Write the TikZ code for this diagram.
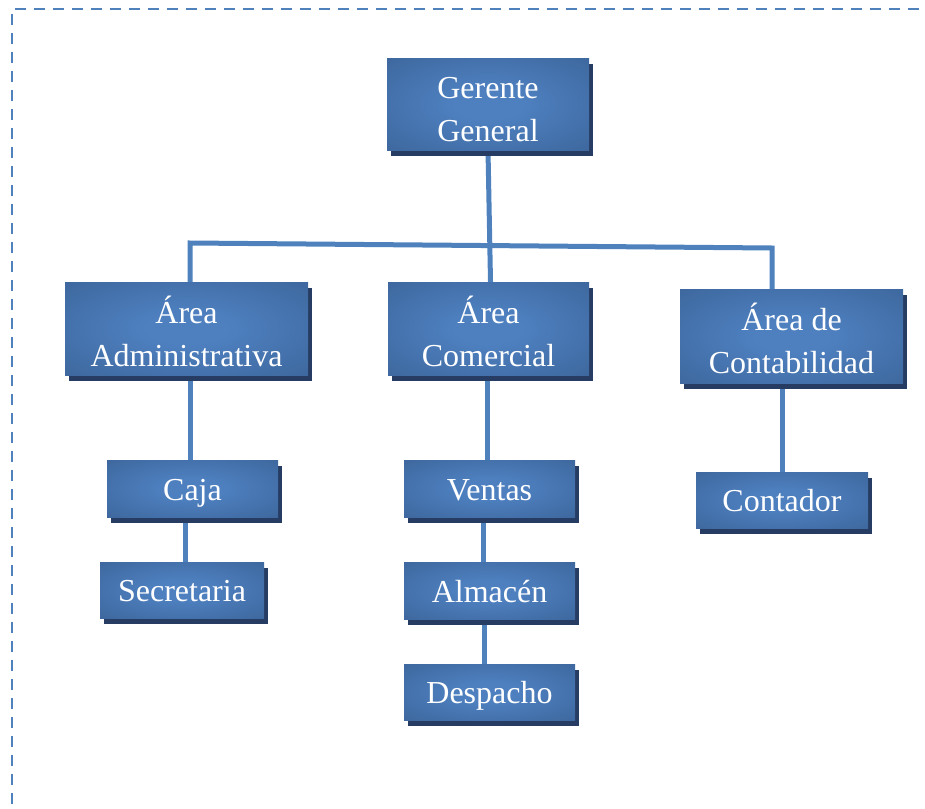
\documentclass[tikz,border=0pt]{standalone}
\usepackage{fontspec}
\setmainfont{Liberation Serif}
\usetikzlibrary{shadows, backgrounds}

\definecolor{boxinner}{RGB}{78,128,192}
\definecolor{boxouter}{RGB}{58,98,150}
\definecolor{shadowblue}{RGB}{38,60,98}
\definecolor{linkblue}{RGB}{79,129,189}

\pgfdeclareradialshading{orgglow}{\pgfpoint{0bp}{0bp}}{color(0bp)=(boxinner); color(8bp)=(boxinner); color(42bp)=(boxouter); color(50bp)=(boxouter)}

\tikzset{
  orgbox/.style={shading=orgglow,
    text=white, align=center, inner sep=0pt,
    font=\fontsize{32}{43}\selectfont,
    drop shadow={shadow xshift=4pt, shadow yshift=-6pt, fill=shadowblue, opacity=1}},
  onerow/.style={orgbox, text height=23pt, text depth=0pt},
  tworow/.style={orgbox, text height=75pt, text depth=0pt},
  orgline/.style={draw=linkblue, line width=5pt},
  borderline/.style={draw=linkblue, line width=2.6pt, dash pattern=on 11pt off 8pt}
}

\begin{document}
\begin{tikzpicture}[x=1pt, y=-1pt]
  \useasboundingbox (0,0) rectangle (925,808);
  % frame
  \draw[borderline] (15,9) -- (925,9);
  \draw[borderline] (12,14) -- (12,808);

  % boxes
  \node[tworow, minimum width=202pt, minimum height=92pt] (gerente) at (488,104) {Gerente\\General};
  \node[tworow, minimum width=243pt, minimum height=93pt] (admin) at (186.5,328.5) {Área\\Administrativa};
  \node[tworow, minimum width=201pt, minimum height=93pt] (comercial) at (488.5,328.5) {Área\\Comercial};
  \node[tworow, minimum width=223pt, minimum height=94pt] (contab) at (791.5,336) {Área de\\Contabilidad};
  \node[onerow, minimum width=171pt, minimum height=57pt] (caja) at (192.5,488.5) {Caja};
  \node[onerow, minimum width=164pt, minimum height=56pt] (secretaria) at (182,590) {Secretaria};
  \node[onerow, minimum width=171pt, minimum height=57pt] (ventas) at (489.5,488.5) {Ventas};
  \node[onerow, minimum width=171pt, minimum height=57pt] (almacen) at (489.5,590.5) {Almacén};
  \node[onerow, minimum width=171pt, minimum height=56pt] (despacho) at (489.5,692) {Despacho};
  \node[onerow, minimum width=172pt, minimum height=56pt] (contador) at (782,500) {Contador};

  \coordinate (barL) at (190,243);
  \coordinate (barR) at (772,248);

  % links
  \begin{scope}[on background layer]
    \draw[orgline] (gerente.south) -- ([xshift=2pt]comercial.north);
    \draw[orgline] (admin.north -| barL) -- (barL) -- (barR) -- (contab.north -| barR);
    \draw[orgline] (admin.south -| barL) -- (caja.north -| barL);
    \draw[orgline] ([xshift=-7pt]caja.south) -- ([xshift=-7pt]caja.south |- secretaria.north);
    \draw[orgline] ([xshift=-1pt]comercial.south) -- ([xshift=-1pt]comercial.south |- ventas.north);
    \draw[orgline] ([xshift=-6pt]ventas.south) -- ([xshift=-6pt]almacen.north);
    \draw[orgline] ([xshift=-5pt]almacen.south) -- ([xshift=-5pt]despacho.north);
    \draw[orgline] (contador.north |- contab.south) -- (contador.north);
  \end{scope}
\end{tikzpicture}
\end{document}
